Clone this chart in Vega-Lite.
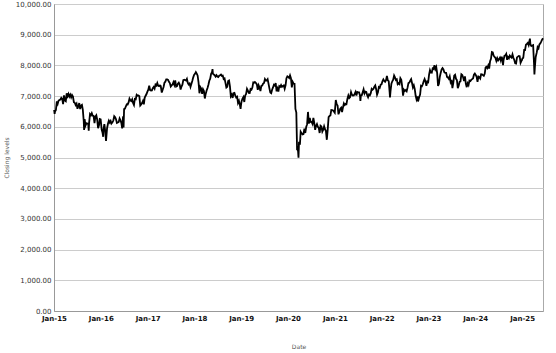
{
  "$schema": "https://vega.github.io/schema/vega-lite/v6.json",
  "width": 489,
  "height": 307,
  "autosize": {"type": "none"},
  "padding": {"left": 54, "top": 4, "right": 13, "bottom": 42},
  "background": "white",
  "config": {
    "font": "DejaVu Sans",
    "view": {"stroke": "#aaaaaa", "strokeWidth": 1}
  },
  "data": {"values": [
{"d":"2015-01-02","v":6548},{"d":"2015-01-06","v":6421},{"d":"2015-01-09","v":6501},{"d":"2015-01-16","v":6550},{"d":"2015-01-23","v":6832},{"d":"2015-01-30","v":6749},{"d":"2015-02-06","v":6853},{"d":"2015-02-13","v":6873},{"d":"2015-02-20","v":6889},{"d":"2015-02-27","v":6946},{"d":"2015-03-06","v":6912},{"d":"2015-03-13","v":6741},{"d":"2015-03-20","v":7022},{"d":"2015-03-27","v":6855},{"d":"2015-04-03","v":6833},{"d":"2015-04-10","v":7089},{"d":"2015-04-17","v":6994},{"d":"2015-04-24","v":7070},{"d":"2015-05-01","v":6986},{"d":"2015-05-08","v":7047},{"d":"2015-05-15","v":6960},{"d":"2015-05-22","v":7032},{"d":"2015-05-29","v":6984},{"d":"2015-06-05","v":6804},{"d":"2015-06-12","v":6784},{"d":"2015-06-19","v":6710},{"d":"2015-06-26","v":6754},{"d":"2015-07-03","v":6585},{"d":"2015-07-10","v":6673},{"d":"2015-07-17","v":6775},{"d":"2015-07-24","v":6579},{"d":"2015-07-31","v":6696},{"d":"2015-08-07","v":6718},{"d":"2015-08-14","v":6550},{"d":"2015-08-21","v":6188},{"d":"2015-08-24","v":5898},{"d":"2015-08-28","v":6247},{"d":"2015-09-04","v":6043},{"d":"2015-09-11","v":6117},{"d":"2015-09-18","v":6105},{"d":"2015-09-25","v":6109},{"d":"2015-09-29","v":5874},{"d":"2015-10-02","v":6130},{"d":"2015-10-09","v":6416},{"d":"2015-10-16","v":6378},{"d":"2015-10-23","v":6444},{"d":"2015-10-30","v":6361},{"d":"2015-11-06","v":6353},{"d":"2015-11-13","v":6118},{"d":"2015-11-20","v":6334},{"d":"2015-11-27","v":6375},{"d":"2015-12-04","v":6238},{"d":"2015-12-11","v":5952},{"d":"2015-12-18","v":6052},{"d":"2015-12-24","v":6254},{"d":"2015-12-31","v":6242},
{"d":"2016-01-08","v":5912},{"d":"2016-01-15","v":5804},{"d":"2016-01-20","v":5673},{"d":"2016-01-22","v":5900},{"d":"2016-01-29","v":6084},{"d":"2016-02-05","v":5848},{"d":"2016-02-11","v":5537},{"d":"2016-02-19","v":5950},{"d":"2016-02-26","v":6097},{"d":"2016-03-04","v":6200},{"d":"2016-03-11","v":6140},{"d":"2016-03-18","v":6190},{"d":"2016-03-24","v":6106},{"d":"2016-04-01","v":6146},{"d":"2016-04-08","v":6204},{"d":"2016-04-15","v":6344},{"d":"2016-04-22","v":6310},{"d":"2016-04-29","v":6242},{"d":"2016-05-06","v":6126},{"d":"2016-05-13","v":6138},{"d":"2016-05-20","v":6156},{"d":"2016-05-27","v":6271},{"d":"2016-06-03","v":6210},{"d":"2016-06-10","v":6116},{"d":"2016-06-16","v":5950},{"d":"2016-06-23","v":6338},{"d":"2016-06-27","v":5982},{"d":"2016-07-01","v":6578},{"d":"2016-07-08","v":6591},{"d":"2016-07-15","v":6669},{"d":"2016-07-22","v":6730},{"d":"2016-07-29","v":6724},{"d":"2016-08-05","v":6793},{"d":"2016-08-12","v":6916},{"d":"2016-08-19","v":6859},{"d":"2016-08-26","v":6838},{"d":"2016-09-02","v":6895},{"d":"2016-09-09","v":6777},{"d":"2016-09-16","v":6710},{"d":"2016-09-23","v":6910},{"d":"2016-09-30","v":6899},{"d":"2016-10-07","v":7044},{"d":"2016-10-14","v":7014},{"d":"2016-10-21","v":7020},{"d":"2016-10-28","v":6996},{"d":"2016-11-04","v":6693},{"d":"2016-11-11","v":6730},{"d":"2016-11-18","v":6775},{"d":"2016-11-25","v":6840},{"d":"2016-12-02","v":6730},{"d":"2016-12-09","v":6954},{"d":"2016-12-16","v":7012},{"d":"2016-12-23","v":7068},{"d":"2016-12-30","v":7143},
{"d":"2017-01-06","v":7210},{"d":"2017-01-13","v":7338},{"d":"2017-01-20","v":7198},{"d":"2017-01-27","v":7184},{"d":"2017-02-03","v":7188},{"d":"2017-02-10","v":7258},{"d":"2017-02-17","v":7300},{"d":"2017-02-24","v":7243},{"d":"2017-03-03","v":7374},{"d":"2017-03-10","v":7343},{"d":"2017-03-17","v":7425},{"d":"2017-03-24","v":7336},{"d":"2017-03-31","v":7323},{"d":"2017-04-07","v":7349},{"d":"2017-04-13","v":7328},{"d":"2017-04-21","v":7115},{"d":"2017-04-28","v":7204},{"d":"2017-05-05","v":7298},{"d":"2017-05-12","v":7435},{"d":"2017-05-19","v":7470},{"d":"2017-05-26","v":7548},{"d":"2017-06-02","v":7548},{"d":"2017-06-09","v":7527},{"d":"2017-06-16","v":7464},{"d":"2017-06-23","v":7424},{"d":"2017-06-30","v":7312},{"d":"2017-07-07","v":7350},{"d":"2017-07-14","v":7378},{"d":"2017-07-21","v":7453},{"d":"2017-07-28","v":7368},{"d":"2017-08-04","v":7511},{"d":"2017-08-11","v":7310},{"d":"2017-08-18","v":7324},{"d":"2017-08-25","v":7401},{"d":"2017-09-01","v":7438},{"d":"2017-09-08","v":7377},{"d":"2017-09-15","v":7215},{"d":"2017-09-22","v":7310},{"d":"2017-09-29","v":7373},{"d":"2017-10-06","v":7522},{"d":"2017-10-13","v":7535},{"d":"2017-10-20","v":7523},{"d":"2017-10-27","v":7505},{"d":"2017-11-03","v":7560},{"d":"2017-11-10","v":7433},{"d":"2017-11-17","v":7380},{"d":"2017-11-24","v":7409},{"d":"2017-12-01","v":7300},{"d":"2017-12-08","v":7394},{"d":"2017-12-15","v":7490},{"d":"2017-12-22","v":7603},{"d":"2017-12-29","v":7688},
{"d":"2018-01-05","v":7724},{"d":"2018-01-12","v":7779},{"d":"2018-01-19","v":7730},{"d":"2018-01-26","v":7666},{"d":"2018-02-02","v":7443},{"d":"2018-02-09","v":7092},{"d":"2018-02-16","v":7294},{"d":"2018-02-23","v":7244},{"d":"2018-03-02","v":7070},{"d":"2018-03-09","v":7224},{"d":"2018-03-16","v":7164},{"d":"2018-03-23","v":6922},{"d":"2018-03-29","v":7057},{"d":"2018-04-06","v":7184},{"d":"2018-04-13","v":7265},{"d":"2018-04-20","v":7368},{"d":"2018-04-27","v":7502},{"d":"2018-05-04","v":7567},{"d":"2018-05-11","v":7725},{"d":"2018-05-18","v":7779},{"d":"2018-05-22","v":7877},{"d":"2018-05-25","v":7730},{"d":"2018-06-01","v":7701},{"d":"2018-06-08","v":7682},{"d":"2018-06-15","v":7634},{"d":"2018-06-22","v":7682},{"d":"2018-06-29","v":7637},{"d":"2018-07-06","v":7618},{"d":"2018-07-13","v":7662},{"d":"2018-07-20","v":7679},{"d":"2018-07-27","v":7701},{"d":"2018-08-03","v":7659},{"d":"2018-08-10","v":7667},{"d":"2018-08-17","v":7558},{"d":"2018-08-24","v":7577},{"d":"2018-08-31","v":7432},{"d":"2018-09-07","v":7277},{"d":"2018-09-14","v":7304},{"d":"2018-09-21","v":7490},{"d":"2018-09-28","v":7510},{"d":"2018-10-05","v":7318},{"d":"2018-10-12","v":6996},{"d":"2018-10-19","v":7050},{"d":"2018-10-26","v":6940},{"d":"2018-11-02","v":7094},{"d":"2018-11-09","v":7105},{"d":"2018-11-16","v":7014},{"d":"2018-11-23","v":6953},{"d":"2018-11-30","v":6980},{"d":"2018-12-07","v":6778},{"d":"2018-12-14","v":6845},{"d":"2018-12-21","v":6721},{"d":"2018-12-27","v":6584},{"d":"2018-12-31","v":6728},
{"d":"2019-01-04","v":6837},{"d":"2019-01-11","v":6918},{"d":"2019-01-18","v":6968},{"d":"2019-01-25","v":6809},{"d":"2019-02-01","v":7020},{"d":"2019-02-08","v":7071},{"d":"2019-02-15","v":7237},{"d":"2019-02-22","v":7178},{"d":"2019-03-01","v":7107},{"d":"2019-03-08","v":7104},{"d":"2019-03-15","v":7228},{"d":"2019-03-22","v":7208},{"d":"2019-03-29","v":7279},{"d":"2019-04-05","v":7447},{"d":"2019-04-12","v":7437},{"d":"2019-04-18","v":7460},{"d":"2019-04-26","v":7428},{"d":"2019-05-03","v":7380},{"d":"2019-05-10","v":7203},{"d":"2019-05-17","v":7348},{"d":"2019-05-24","v":7277},{"d":"2019-05-31","v":7162},{"d":"2019-06-07","v":7331},{"d":"2019-06-14","v":7345},{"d":"2019-06-21","v":7407},{"d":"2019-06-28","v":7426},{"d":"2019-07-05","v":7553},{"d":"2019-07-12","v":7506},{"d":"2019-07-19","v":7508},{"d":"2019-07-26","v":7549},{"d":"2019-08-02","v":7407},{"d":"2019-08-09","v":7254},{"d":"2019-08-16","v":7117},{"d":"2019-08-23","v":7095},{"d":"2019-08-30","v":7207},{"d":"2019-09-06","v":7282},{"d":"2019-09-13","v":7367},{"d":"2019-09-20","v":7345},{"d":"2019-09-27","v":7426},{"d":"2019-10-04","v":7155},{"d":"2019-10-11","v":7247},{"d":"2019-10-18","v":7150},{"d":"2019-10-25","v":7324},{"d":"2019-11-01","v":7302},{"d":"2019-11-08","v":7359},{"d":"2019-11-15","v":7303},{"d":"2019-11-22","v":7327},{"d":"2019-11-29","v":7347},{"d":"2019-12-06","v":7240},{"d":"2019-12-13","v":7353},{"d":"2019-12-20","v":7582},{"d":"2019-12-27","v":7645},
{"d":"2020-01-03","v":7622},{"d":"2020-01-10","v":7588},{"d":"2020-01-17","v":7675},{"d":"2020-01-24","v":7586},{"d":"2020-01-31","v":7286},{"d":"2020-02-07","v":7466},{"d":"2020-02-14","v":7409},{"d":"2020-02-21","v":7404},{"d":"2020-02-28","v":6581},{"d":"2020-03-06","v":6463},{"d":"2020-03-12","v":5237},{"d":"2020-03-13","v":5366},{"d":"2020-03-20","v":5191},{"d":"2020-03-23","v":4994},{"d":"2020-03-27","v":5510},{"d":"2020-04-03","v":5416},{"d":"2020-04-09","v":5843},{"d":"2020-04-17","v":5787},{"d":"2020-04-24","v":5752},{"d":"2020-05-01","v":5763},{"d":"2020-05-08","v":5936},{"d":"2020-05-15","v":5800},{"d":"2020-05-22","v":5993},{"d":"2020-05-29","v":6077},{"d":"2020-06-05","v":6484},{"d":"2020-06-12","v":6105},{"d":"2020-06-19","v":6292},{"d":"2020-06-26","v":6159},{"d":"2020-07-03","v":6157},{"d":"2020-07-10","v":6095},{"d":"2020-07-17","v":6290},{"d":"2020-07-24","v":6124},{"d":"2020-07-31","v":5898},{"d":"2020-08-07","v":6032},{"d":"2020-08-14","v":6090},{"d":"2020-08-21","v":6002},{"d":"2020-08-28","v":5964},{"d":"2020-09-04","v":5799},{"d":"2020-09-11","v":6032},{"d":"2020-09-18","v":6007},{"d":"2020-09-25","v":5843},{"d":"2020-10-02","v":5902},{"d":"2020-10-09","v":6017},{"d":"2020-10-16","v":5920},{"d":"2020-10-23","v":5860},{"d":"2020-10-30","v":5577},{"d":"2020-11-06","v":5910},{"d":"2020-11-13","v":6316},{"d":"2020-11-20","v":6351},{"d":"2020-11-27","v":6368},{"d":"2020-12-04","v":6550},{"d":"2020-12-11","v":6547},{"d":"2020-12-18","v":6529},{"d":"2020-12-24","v":6502},{"d":"2020-12-31","v":6461},
{"d":"2021-01-08","v":6873},{"d":"2021-01-15","v":6736},{"d":"2021-01-22","v":6695},{"d":"2021-01-29","v":6407},{"d":"2021-02-05","v":6489},{"d":"2021-02-12","v":6589},{"d":"2021-02-19","v":6624},{"d":"2021-02-26","v":6483},{"d":"2021-03-05","v":6631},{"d":"2021-03-12","v":6761},{"d":"2021-03-19","v":6709},{"d":"2021-03-26","v":6741},{"d":"2021-04-01","v":6737},{"d":"2021-04-09","v":6916},{"d":"2021-04-16","v":7020},{"d":"2021-04-23","v":6938},{"d":"2021-04-30","v":6970},{"d":"2021-05-07","v":7130},{"d":"2021-05-14","v":7044},{"d":"2021-05-21","v":7018},{"d":"2021-05-28","v":7023},{"d":"2021-06-04","v":7070},{"d":"2021-06-11","v":7134},{"d":"2021-06-18","v":7017},{"d":"2021-06-25","v":7136},{"d":"2021-07-02","v":7123},{"d":"2021-07-09","v":7122},{"d":"2021-07-16","v":7008},{"d":"2021-07-19","v":6844},{"d":"2021-07-23","v":7028},{"d":"2021-07-30","v":7032},{"d":"2021-08-06","v":7123},{"d":"2021-08-13","v":7219},{"d":"2021-08-20","v":7087},{"d":"2021-08-27","v":7148},{"d":"2021-09-03","v":7138},{"d":"2021-09-10","v":7029},{"d":"2021-09-17","v":6964},{"d":"2021-09-24","v":7051},{"d":"2021-10-01","v":7027},{"d":"2021-10-08","v":7095},{"d":"2021-10-15","v":7234},{"d":"2021-10-22","v":7205},{"d":"2021-10-29","v":7238},{"d":"2021-11-05","v":7304},{"d":"2021-11-12","v":7348},{"d":"2021-11-19","v":7224},{"d":"2021-11-26","v":7044},{"d":"2021-12-03","v":7122},{"d":"2021-12-10","v":7292},{"d":"2021-12-17","v":7270},{"d":"2021-12-24","v":7373},{"d":"2021-12-31","v":7385},
{"d":"2022-01-07","v":7485},{"d":"2022-01-14","v":7543},{"d":"2022-01-21","v":7494},{"d":"2022-01-28","v":7466},{"d":"2022-02-04","v":7516},{"d":"2022-02-11","v":7661},{"d":"2022-02-18","v":7513},{"d":"2022-02-25","v":7489},{"d":"2022-03-04","v":7140},{"d":"2022-03-07","v":6959},{"d":"2022-03-11","v":7156},{"d":"2022-03-18","v":7405},{"d":"2022-03-25","v":7483},{"d":"2022-04-01","v":7538},{"d":"2022-04-08","v":7670},{"d":"2022-04-14","v":7616},{"d":"2022-04-22","v":7522},{"d":"2022-04-29","v":7545},{"d":"2022-05-06","v":7388},{"d":"2022-05-13","v":7418},{"d":"2022-05-20","v":7390},{"d":"2022-05-27","v":7585},{"d":"2022-06-03","v":7533},{"d":"2022-06-10","v":7318},{"d":"2022-06-17","v":7016},{"d":"2022-06-24","v":7209},{"d":"2022-07-01","v":7169},{"d":"2022-07-08","v":7196},{"d":"2022-07-15","v":7159},{"d":"2022-07-22","v":7276},{"d":"2022-07-29","v":7423},{"d":"2022-08-05","v":7440},{"d":"2022-08-12","v":7501},{"d":"2022-08-19","v":7550},{"d":"2022-08-26","v":7427},{"d":"2022-09-02","v":7281},{"d":"2022-09-09","v":7351},{"d":"2022-09-16","v":7237},{"d":"2022-09-23","v":7019},{"d":"2022-09-30","v":6894},{"d":"2022-10-07","v":6991},{"d":"2022-10-12","v":6826},{"d":"2022-10-14","v":6858},{"d":"2022-10-21","v":6970},{"d":"2022-10-28","v":7048},{"d":"2022-11-04","v":7335},{"d":"2022-11-11","v":7318},{"d":"2022-11-18","v":7385},{"d":"2022-11-25","v":7486},{"d":"2022-12-02","v":7556},{"d":"2022-12-09","v":7476},{"d":"2022-12-16","v":7332},{"d":"2022-12-23","v":7473},{"d":"2022-12-30","v":7452},
{"d":"2023-01-06","v":7699},{"d":"2023-01-13","v":7844},{"d":"2023-01-20","v":7770},{"d":"2023-01-27","v":7765},{"d":"2023-02-03","v":7902},{"d":"2023-02-10","v":7882},{"d":"2023-02-17","v":8004},{"d":"2023-02-24","v":7879},{"d":"2023-03-03","v":7947},{"d":"2023-03-10","v":7748},{"d":"2023-03-17","v":7335},{"d":"2023-03-24","v":7405},{"d":"2023-03-31","v":7632},{"d":"2023-04-06","v":7742},{"d":"2023-04-14","v":7871},{"d":"2023-04-21","v":7914},{"d":"2023-04-28","v":7871},{"d":"2023-05-05","v":7778},{"d":"2023-05-12","v":7754},{"d":"2023-05-19","v":7756},{"d":"2023-05-26","v":7627},{"d":"2023-06-02","v":7607},{"d":"2023-06-09","v":7562},{"d":"2023-06-16","v":7643},{"d":"2023-06-23","v":7462},{"d":"2023-06-30","v":7532},{"d":"2023-07-07","v":7257},{"d":"2023-07-14","v":7434},{"d":"2023-07-21","v":7664},{"d":"2023-07-28","v":7694},{"d":"2023-08-04","v":7564},{"d":"2023-08-11","v":7524},{"d":"2023-08-18","v":7262},{"d":"2023-08-25","v":7338},{"d":"2023-09-01","v":7464},{"d":"2023-09-08","v":7478},{"d":"2023-09-15","v":7711},{"d":"2023-09-22","v":7684},{"d":"2023-09-29","v":7608},{"d":"2023-10-06","v":7495},{"d":"2023-10-13","v":7644},{"d":"2023-10-20","v":7402},{"d":"2023-10-27","v":7291},{"d":"2023-11-03","v":7417},{"d":"2023-11-10","v":7360},{"d":"2023-11-17","v":7504},{"d":"2023-11-24","v":7488},{"d":"2023-12-01","v":7529},{"d":"2023-12-08","v":7554},{"d":"2023-12-15","v":7576},{"d":"2023-12-22","v":7697},{"d":"2023-12-29","v":7733},
{"d":"2024-01-05","v":7689},{"d":"2024-01-12","v":7625},{"d":"2024-01-19","v":7462},{"d":"2024-01-26","v":7635},{"d":"2024-02-02","v":7615},{"d":"2024-02-09","v":7573},{"d":"2024-02-16","v":7712},{"d":"2024-02-23","v":7706},{"d":"2024-03-01","v":7682},{"d":"2024-03-08","v":7660},{"d":"2024-03-15","v":7727},{"d":"2024-03-22","v":7931},{"d":"2024-03-28","v":7953},{"d":"2024-04-05","v":7911},{"d":"2024-04-12","v":7996},{"d":"2024-04-19","v":7896},{"d":"2024-04-26","v":8140},{"d":"2024-05-03","v":8214},{"d":"2024-05-10","v":8434},{"d":"2024-05-17","v":8420},{"d":"2024-05-24","v":8318},{"d":"2024-05-31","v":8275},{"d":"2024-06-07","v":8245},{"d":"2024-06-14","v":8147},{"d":"2024-06-21","v":8238},{"d":"2024-06-28","v":8164},{"d":"2024-07-05","v":8204},{"d":"2024-07-12","v":8253},{"d":"2024-07-19","v":8156},{"d":"2024-07-26","v":8286},{"d":"2024-08-02","v":8175},{"d":"2024-08-05","v":8008},{"d":"2024-08-09","v":8168},{"d":"2024-08-16","v":8311},{"d":"2024-08-23","v":8327},{"d":"2024-08-30","v":8377},{"d":"2024-09-06","v":8181},{"d":"2024-09-13","v":8273},{"d":"2024-09-20","v":8230},{"d":"2024-09-27","v":8320},{"d":"2024-10-04","v":8281},{"d":"2024-10-11","v":8254},{"d":"2024-10-18","v":8358},{"d":"2024-10-25","v":8249},{"d":"2024-11-01","v":8177},{"d":"2024-11-08","v":8072},{"d":"2024-11-15","v":8063},{"d":"2024-11-22","v":8262},{"d":"2024-11-29","v":8287},{"d":"2024-12-06","v":8308},{"d":"2024-12-13","v":8300},{"d":"2024-12-20","v":8085},{"d":"2024-12-27","v":8150},{"d":"2024-12-31","v":8173},
{"d":"2025-01-03","v":8224},{"d":"2025-01-10","v":8248},{"d":"2025-01-17","v":8505},{"d":"2025-01-24","v":8502},{"d":"2025-01-31","v":8674},{"d":"2025-02-07","v":8700},{"d":"2025-02-14","v":8732},{"d":"2025-02-21","v":8659},{"d":"2025-02-28","v":8810},{"d":"2025-03-03","v":8871},{"d":"2025-03-07","v":8680},{"d":"2025-03-14","v":8632},{"d":"2025-03-21","v":8647},{"d":"2025-03-28","v":8659},{"d":"2025-04-04","v":8055},{"d":"2025-04-07","v":7702},{"d":"2025-04-11","v":7964},{"d":"2025-04-17","v":8276},{"d":"2025-04-25","v":8415},{"d":"2025-05-02","v":8596},{"d":"2025-05-09","v":8554},{"d":"2025-05-16","v":8685},{"d":"2025-05-23","v":8718},{"d":"2025-05-30","v":8772},{"d":"2025-06-06","v":8837},{"d":"2025-06-13","v":8885}
  ]},
  "mark": {"type": "line", "color": "#000000", "strokeWidth": 1.8, "interpolate": "linear"},
  "encoding": {
    "x": {
      "field": "d",
      "type": "temporal",
      "scale": {"type": "utc", "domain": [{"year": 2015, "month": 1, "date": 1, "utc": true}, {"year": 2025, "month": 6, "date": 13, "utc": true}]},
      "axis": {
        "title": "Date",
        "format": "%b-%y",
        "tickCount": {"interval": "year", "step": 1},
        "grid": false,
        "ticks": false,
        "domainColor": "#999999",
        "labelFontSize": 7,
        "labelFontWeight": "bold",
        "labelColor": "#111111",
        "labelPadding": 3,
        "labelFlush": false,
        "labelOverlap": false,
        "titleFontSize": 6,
        "titleFontWeight": "normal",
        "titleColor": "#555555",
        "titlePadding": 22
      }
    },
    "y": {
      "field": "v",
      "type": "quantitative",
      "scale": {"domain": [0, 10000], "nice": false, "zero": true},
      "axis": {
        "title": "Closing levels",
        "format": ",.2f",
        "values": [0, 1000, 2000, 3000, 4000, 5000, 6000, 7000, 8000, 9000, 10000],
        "grid": true,
        "gridColor": "#cccccc",
        "ticks": false,
        "domainColor": "#999999",
        "labelFontSize": 7,
        "labelColor": "#333333",
        "labelPadding": 3,
        "labelFlush": false,
        "titleFontSize": 6,
        "titleFontWeight": "normal",
        "titleColor": "#555555",
        "titlePadding": 6
      }
    }
  }
}
